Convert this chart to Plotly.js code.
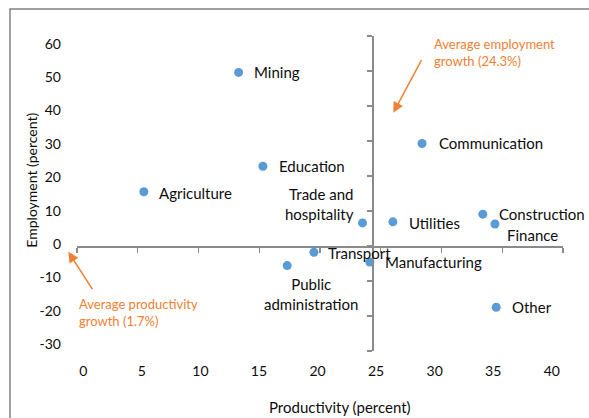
<!DOCTYPE html>
<html>
<head>
<meta charset="utf-8">
<script src="https://cdn.plot.ly/plotly-3.0.1.min.js"></script>
<style>html,body{margin:0;padding:0;background:#fff;}#chart{width:589px;height:418px;}</style>
</head>
<body>
<div id="chart"></div>
<script>
// ---- data ----
const sectors = ["Mining","Education","Agriculture","Communication","Trade and<br>hospitality","Utilities","Construction","Finance","Transport","Manufacturing","Public<br>administration","Other"];
const productivity = [13.3, 15.3, 5.5, 28.4, 23.5, 26.0, 33.4, 34.4, 19.5, 24.1, 17.3, 34.5];
const employment = [49.6, 22.8, 15.5, 29.3, 6.6, 6.9, 9.1, 6.3, -1.8, -4.6, -5.6, -17.5];
const avgProductivity = 24.3;   // vertical reference (labelled "employment" in source)
const avgEmployment = 0;        // horizontal reference line
const xTicks = [0,5,10,15,20,25,30,35,40];
const yTicks = [-30,-20,-10,0,10,20,30,40,50,60];

// ---- label placement (style) ----
const labelStyle = [
  {xa:'left', xs:13, ys:0},
  {xa:'left', xs:14, ys:0},
  {xa:'left', xs:13, ys:-1},
  {xa:'left', xs:15, ys:0},
  {xa:'right', xs:-7, ys:19},
  {xa:'left', xs:14, ys:-1},
  {xa:'left', xs:14, ys:0},
  {xa:'left', xs:10, ys:-11},
  {xa:'left', xs:12, ys:-1},
  {xa:'left', xs:13, ys:0},
  {xa:'center', xs:24, ys:-28},
  {xa:'left', xs:14, ys:0}
];

const FONT = 'Lato, "Open Sans", sans-serif';
const TXT = '#0d0d0d';
const ORANGE = '#EE8133';
const AXC = '#8a8a8a';

const xr = [0, 40], yr = [-30, 60];
const posX0 = (avgEmployment - yr[0]) / (yr[1] - yr[0]);
const posY0 = (avgProductivity - xr[0]) / (xr[1] - xr[0]);

const annotations = sectors.map((s, i) => ({
  x: productivity[i], y: employment[i], xref:'x', yref:'y',
  text: s, showarrow:false, xanchor: labelStyle[i].xa, yanchor:'middle',
  xshift: labelStyle[i].xs, yshift: labelStyle[i].ys,
  align: labelStyle[i].xa === 'center' ? 'center' : (labelStyle[i].xa === 'right' ? 'right' : 'left'),
  font:{family:FONT, size:15, color:TXT}
}));

annotations.push(
  {xref:'paper', yref:'paper', x:0.6508, y:0.7565, ax:29, ay:-54, showarrow:true, arrowhead:2, arrowsize:1.4, arrowwidth:1.5, arrowcolor:ORANGE, text:''},
  {xref:'paper', yref:'paper', x:-0.0179, y:0.3152, ax:25, ay:39, showarrow:true, arrowhead:2, arrowsize:1.4, arrowwidth:1.5, arrowcolor:ORANGE, text:''},
  {xref:'paper', yref:'paper', x:0.7305, y:0.949, xanchor:'left', yanchor:'middle', align:'left', showarrow:false,
   text:'Average employment<br>growth (24.3%)', font:{family:FONT, size:13, color:ORANGE}},
  {xref:'paper', yref:'paper', x:0.0, y:0.1216, xanchor:'left', yanchor:'middle', align:'left', showarrow:false,
   text:'Average productivity<br>growth (1.7%)', font:{family:FONT, size:13, color:ORANGE}},
  {xref:'paper', yref:'paper', x:-0.0932, y:0.543, textangle:-90, showarrow:false, xanchor:'center', yanchor:'middle',
   text:'Employment (percent)', font:{family:FONT, size:14, color:TXT}},
  {xref:'paper', yref:'paper', x:0.5412, y:-0.1768, showarrow:false, xanchor:'center', yanchor:'middle',
   text:'Productivity (percent)', font:{family:FONT, size:15, color:TXT}}
);

const trace = {
  x: productivity, y: employment, type:'scatter', mode:'markers',
  marker:{color:'#5B9BD5', size:9}, hoverinfo:'skip', cliponaxis:false
};

const layout = {
  width:589, height:418,
  margin:{l:77, r:26, t:36, b:67},
  paper_bgcolor:'#fff', plot_bgcolor:'rgba(0,0,0,0)',
  showlegend:false,
  xaxis:{range:xr, anchor:'free', position:posX0, showline:true, linecolor:AXC, linewidth:1.5,
    ticks:'outside', ticklen:5, tickcolor:AXC, tickwidth:1.2, tickvals:xTicks, showticklabels:false,
    showgrid:false, zeroline:false, fixedrange:true},
  yaxis:{range:yr, anchor:'free', position:posY0, showline:true, linecolor:AXC, linewidth:1.5,
    ticks:'outside', ticklen:5, tickcolor:AXC, tickwidth:1.2, tickvals:yTicks, showticklabels:false,
    showgrid:false, zeroline:false, fixedrange:true},
  xaxis2:{overlaying:'x', anchor:'free', position:0, side:'bottom', range:[-0.54, 40.96],
    tickvals:xTicks, ticktext:xTicks.map(String), showline:false, ticks:'', ticklabelstandoff:10,
    showgrid:false, zeroline:false, tickfont:{family:FONT, size:14, color:TXT}},
  yaxis2:{overlaying:'y', anchor:'free', position:0, side:'left', range:[-32.04, 62.28],
    tickvals:yTicks, ticktext:yTicks.map(String), showline:false, ticks:'', ticklabelstandoff:16,
    showgrid:false, zeroline:false, tickfont:{family:FONT, size:14, color:TXT}},
  annotations: annotations,
  shapes:[
    {type:'rect', xref:'paper', yref:'paper', x0:-0.1379, x1:1.2, y0:-0.4, y1:1.0857,
     line:{color:'#808080', width:1.5}, layer:'below'}
  ]
};

const labelTrace = {x:[null], y:[null], xaxis:'x2', yaxis:'y2', type:'scatter', mode:'markers', hoverinfo:'skip'};

Plotly.newPlot('chart', [trace, labelTrace], layout, {staticPlot:true});
</script>
</body>
</html>
